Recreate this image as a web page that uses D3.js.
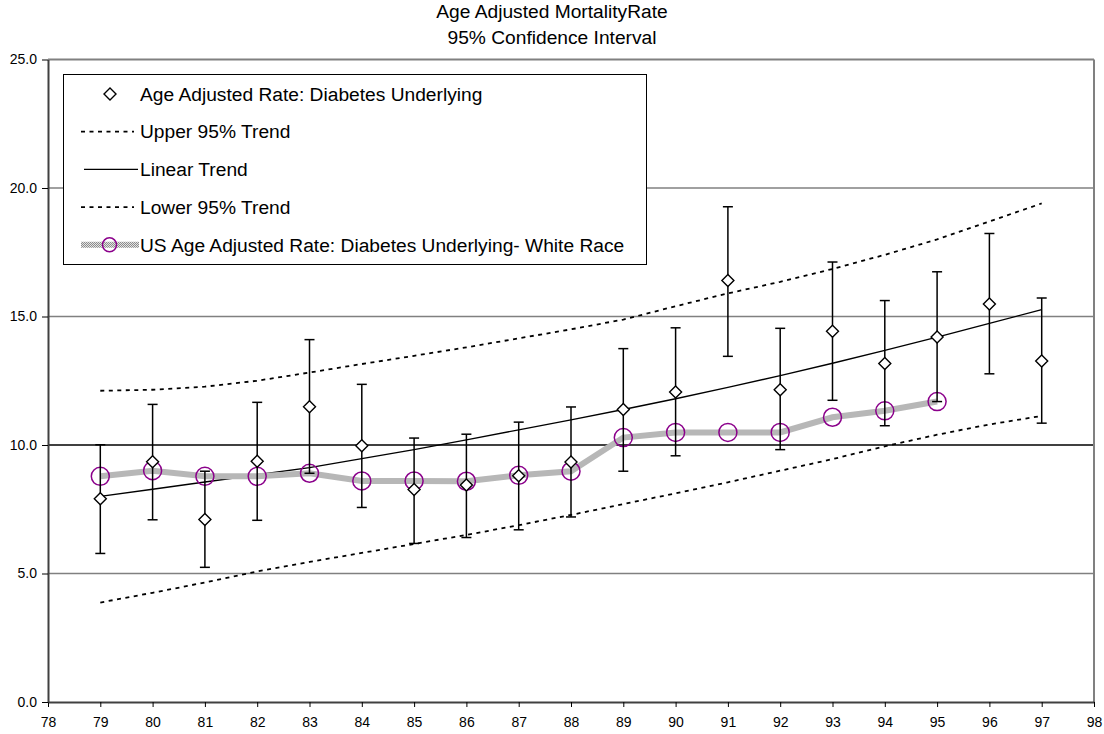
<!DOCTYPE html>
<html>
<head>
<meta charset="utf-8">
<script src="https://cdn.jsdelivr.net/npm/d3@7"></script>
<style>
  body { margin: 0; background: #fff; }
  svg { font-family: "Liberation Sans", Arial, sans-serif; }
  .axis path { stroke: #404040; stroke-width: 2px; }
  .axis line { stroke: #000; }
  .axis text { font-size: 14px; fill: #000; }
</style>
</head>
<body>
<svg id="chart" width="1104" height="734"></svg>
<script>
// data
var years = [79, 80, 81, 82, 83, 84, 85, 86, 87, 88, 89, 90, 91, 92, 93, 94, 95, 96, 97];
var rate = [7.91, 9.35, 7.1, 9.37, 11.49, 9.97, 8.27, 8.44, 8.8, 9.34, 11.38, 12.06, 16.4, 12.15, 14.43, 13.17, 14.2, 15.49, 13.27];
var ciLow = [5.78, 7.09, 5.24, 7.07, 8.9, 7.57, 6.17, 6.4, 6.7, 7.2, 8.98, 9.58, 13.45, 9.82, 11.74, 10.75, 11.69, 12.77, 10.85];
var ciHigh = [10.01, 11.58, 8.98, 11.66, 14.1, 12.36, 10.27, 10.42, 10.89, 11.48, 13.75, 14.56, 19.27, 14.54, 17.12, 15.62, 16.74, 18.23, 15.72];
var trend = [8.0, 8.28, 8.56, 8.84, 9.12, 9.47, 9.82, 10.2, 10.59, 10.98, 11.38, 11.8, 12.24, 12.7, 13.18, 13.68, 14.2, 14.73, 15.27];
var upper = [12.11, 12.15, 12.27, 12.5, 12.82, 13.15, 13.47, 13.8, 14.15, 14.5, 14.88, 15.4, 15.9, 16.35, 16.85, 17.4, 18.0, 18.7, 19.4];
var lower = [3.87, 4.25, 4.65, 5.08, 5.45, 5.8, 6.15, 6.5, 6.88, 7.28, 7.7, 8.12, 8.55, 9.0, 9.45, 9.95, 10.4, 10.8, 11.13];
var whiteYears = [79, 80, 81, 82, 83, 84, 85, 86, 87, 88, 89, 90, 91, 92, 93, 94, 95];
var whiteRate = [8.78, 9.0, 8.78, 8.78, 8.9, 8.6, 8.6, 8.59, 8.82, 8.98, 10.29, 10.49, 10.49, 10.49, 11.08, 11.33, 11.69];
var xTicks = [78, 79, 80, 81, 82, 83, 84, 85, 86, 87, 88, 89, 90, 91, 92, 93, 94, 95, 96, 97, 98];
var yTicks = [0, 5, 10, 15, 20, 25];
var legendLabels = [
  "Age Adjusted Rate: Diabetes Underlying",
  "Upper 95% Trend",
  "Linear Trend",
  "Lower 95% Trend",
  "US Age Adjusted Rate: Diabetes Underlying- White Race"
];

var svg = d3.select("#chart");
var margin = {top: 59.5, right: 10, bottom: 32, left: 48};
var width = 1094 - margin.left,
    height = 702 - margin.top;

var x = d3.scaleLinear().domain([78, 98]).range([0, width]);
var y = d3.scaleLinear().domain([0, 25]).range([height, 0]);

// pattern for the textured grey series line
var defs = svg.append("defs");
var pat = defs.append("pattern")
  .attr("id", "texture")
  .attr("patternUnits", "userSpaceOnUse")
  .attr("width", 2).attr("height", 2);
pat.append("rect").attr("width", 2).attr("height", 2).attr("fill", "#e2e2e2");
pat.append("rect").attr("width", 1).attr("height", 1).attr("fill", "#8c8c8c");
pat.append("rect").attr("x", 1).attr("y", 1).attr("width", 1).attr("height", 1).attr("fill", "#8c8c8c");

// title
svg.append("text")
  .attr("x", 552).attr("y", 17.5)
  .attr("text-anchor", "middle")
  .style("font-size", "19.2px")
  .text("Age Adjusted MortalityRate");
svg.append("text")
  .attr("x", 552).attr("y", 44)
  .attr("text-anchor", "middle")
  .style("font-size", "19.2px")
  .text("95% Confidence Interval");

var g = svg.append("g").attr("transform", "translate(" + margin.left + "," + margin.top + ")");

// gridlines
g.selectAll("line.grid")
  .data(yTicks.filter(function(d) { return d > 0; }))
  .enter().append("line")
  .attr("class", "grid")
  .attr("x1", 0).attr("x2", width)
  .attr("y1", function(d) { return y(d); })
  .attr("y2", function(d) { return y(d); })
  .attr("stroke", function(d) { return d === 10 ? "#000" : "#808080"; })
  .attr("stroke-width", function(d) { return d === 25 ? 2 : 1.3; });

// right border
g.append("line")
  .attr("x1", width).attr("x2", width)
  .attr("y1", 0).attr("y2", height)
  .attr("stroke", "#808080").attr("stroke-width", 2);

// axes
g.append("g")
  .attr("class", "axis axis--x")
  .attr("transform", "translate(0," + height + ")")
  .call(d3.axisBottom(x).tickValues(xTicks).tickSize(5).tickPadding(10).tickSizeOuter(0).tickFormat(d3.format("d")));

g.append("g")
  .attr("class", "axis axis--y")
  .call(d3.axisLeft(y).tickValues(yTicks).tickSize(6).tickPadding(5).tickSizeOuter(0).tickFormat(d3.format(".1f")));

// trend lines
var line = d3.line()
  .x(function(d) { return x(d[0]); })
  .y(function(d) { return y(d[1]); });

[upper, lower].forEach(function(vals) {
  g.append("path")
    .datum(years.map(function(yr, i) { return [yr, vals[i]]; }))
    .attr("d", line)
    .attr("fill", "none")
    .attr("stroke", "#000")
    .attr("stroke-width", 1.8)
    .attr("stroke-dasharray", "4,4.5");
});

g.append("path")
  .datum(years.map(function(yr, i) { return [yr, trend[i]]; }))
  .attr("d", line)
  .attr("fill", "none")
  .attr("stroke", "#000")
  .attr("stroke-width", 1.4);

// white race series
g.append("path")
  .datum(whiteYears.map(function(yr, i) { return [yr, whiteRate[i]]; }))
  .attr("d", line)
  .attr("fill", "none")
  .attr("stroke", "url(#texture)")
  .attr("stroke-width", 6);

g.selectAll("circle.white")
  .data(whiteYears)
  .enter().append("circle")
  .attr("class", "white")
  .attr("cx", function(d) { return x(d); })
  .attr("cy", function(d, i) { return y(whiteRate[i]); })
  .attr("r", 9)
  .attr("fill", "none")
  .attr("stroke", "#8b008b")
  .attr("stroke-width", 1.5);

// error bars
var bars = g.selectAll("g.err")
  .data(years)
  .enter().append("g")
  .attr("class", "err");

bars.append("line")
  .attr("x1", function(d) { return x(d); })
  .attr("x2", function(d) { return x(d); })
  .attr("y1", function(d, i) { return y(ciLow[i]); })
  .attr("y2", function(d, i) { return y(ciHigh[i]); })
  .attr("stroke", "#000").attr("stroke-width", 1.5);

[ciLow, ciHigh].forEach(function(vals) {
  bars.append("line")
    .attr("x1", function(d) { return x(d) - 5; })
    .attr("x2", function(d) { return x(d) + 5; })
    .attr("y1", function(d, i) { return y(vals[i]); })
    .attr("y2", function(d, i) { return y(vals[i]); })
    .attr("stroke", "#000").attr("stroke-width", 1.5);
});

// diamonds
var diamond = "M0,-6L6,0L0,6L-6,0Z";
g.selectAll("path.pt")
  .data(years)
  .enter().append("path")
  .attr("class", "pt")
  .attr("d", diamond)
  .attr("transform", function(d, i) { return "translate(" + x(d) + "," + y(rate[i]) + ")"; })
  .attr("fill", "#fff")
  .attr("stroke", "#000")
  .attr("stroke-width", 1.4);

// legend
var legend = svg.append("g").attr("class", "legend");
legend.append("rect")
  .attr("x", 63.5).attr("y", 74.5)
  .attr("width", 583).attr("height", 190)
  .attr("fill", "#fff")
  .attr("stroke", "#000");

var rowY = function(i) { return 94 + i * 37.7; };

legend.selectAll("text")
  .data(legendLabels)
  .enter().append("text")
  .attr("x", 140)
  .attr("y", function(d, i) { return rowY(i); })
  .attr("dy", "0.35em")
  .style("font-size", "19.2px")
  .text(function(d) { return d; });

legend.append("path")
  .attr("d", diamond)
  .attr("transform", "translate(110," + rowY(0) + ")")
  .attr("fill", "#fff").attr("stroke", "#000").attr("stroke-width", 1.4);

[1, 3].forEach(function(i) {
  legend.append("line")
    .attr("x1", 81).attr("x2", 134)
    .attr("y1", rowY(i)).attr("y2", rowY(i))
    .attr("stroke", "#000").attr("stroke-width", 1.8)
    .attr("stroke-dasharray", "4,4.5");
});

legend.append("line")
  .attr("x1", 84).attr("x2", 138)
  .attr("y1", rowY(2)).attr("y2", rowY(2))
  .attr("stroke", "#000").attr("stroke-width", 1.4);

legend.append("line")
  .attr("x1", 81).attr("x2", 139)
  .attr("y1", rowY(4)).attr("y2", rowY(4))
  .attr("stroke", "url(#texture)").attr("stroke-width", 6);

legend.append("circle")
  .attr("cx", 109.5).attr("cy", rowY(4))
  .attr("r", 7)
  .attr("fill", "none").attr("stroke", "#8b008b").attr("stroke-width", 1.5);
</script>
</body>
</html>
